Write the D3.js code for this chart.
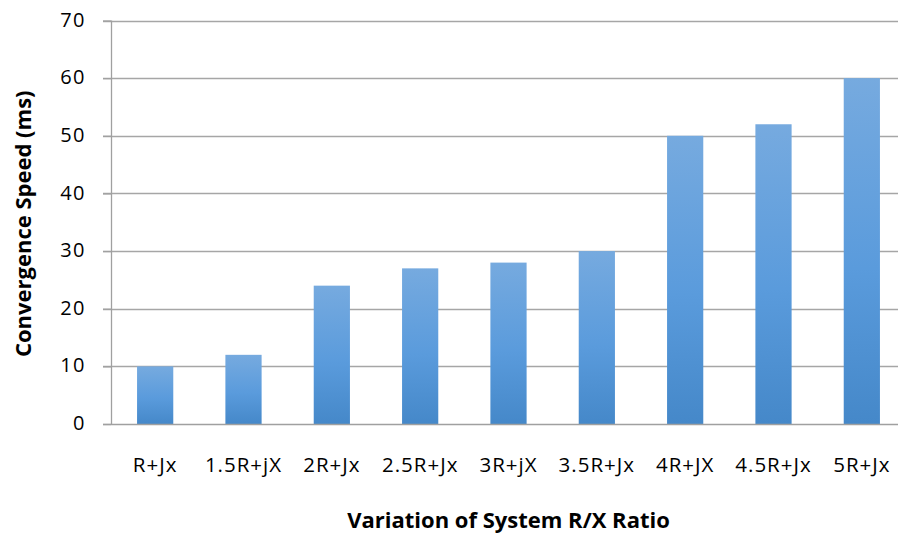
<!DOCTYPE html>
<html>
<head>
<meta charset="utf-8">
<script src="https://cdn.jsdelivr.net/npm/d3@7"></script>
<style>
  html, body { margin: 0; padding: 0; background: #fff; }
  svg { display: block; }
</style>
</head>
<body>
<script>
// Convergence speed for each system R/X ratio
const categories = ["R+Jx", "1.5R+jX", "2R+Jx", "2.5R+Jx", "3R+jX", "3.5R+Jx", "4R+JX", "4.5R+Jx", "5R+Jx"];
const speeds = [10, 12, 24, 27, 28, 30, 50, 52, 60];
const yTicks = [0, 10, 20, 30, 40, 50, 60, 70];

const width = 898, height = 533;
const plot = { left: 111, right: 906, top: 20.5, bottom: 424 };
const font = "'Open Sans', 'Liberation Sans', sans-serif";

const svg = d3.select("body").append("svg")
  .attr("width", width).attr("height", height);

const defs = svg.append("defs");
const grad = defs.append("linearGradient")
  .attr("id", "barFill").attr("x1", 0).attr("y1", 0).attr("x2", 0).attr("y2", 1);
grad.append("stop").attr("offset", "0%").attr("stop-color", "#76aadf");
grad.append("stop").attr("offset", "55%").attr("stop-color", "#5a9bdc");
grad.append("stop").attr("offset", "100%").attr("stop-color", "#4588c9");

const x = d3.scaleBand()
  .domain(categories)
  .range([plot.left, plot.right])
  .paddingInner(0.59)
  .paddingOuter(0.295);

const y = d3.scaleLinear().domain([0, 70]).range([plot.bottom, plot.top]);

// Horizontal gridlines
svg.append("g")
  .selectAll("line")
  .data(yTicks.filter(d => d > 0))
  .join("line")
  .attr("x1", plot.left - 8).attr("x2", width)
  .attr("y1", d => Math.round(y(d)) + 0.5).attr("y2", d => Math.round(y(d)) + 0.5)
  .attr("stroke", "#a6a6a6").attr("stroke-width", 1.3);

// Bars
svg.append("g")
  .selectAll("rect")
  .data(categories.map((c, i) => ({ c, v: speeds[i] })))
  .join("rect")
  .attr("x", d => x(d.c))
  .attr("width", x.bandwidth())
  .attr("y", d => y(d.v))
  .attr("height", d => y(0) - y(d.v))
  .attr("fill", "url(#barFill)");

// Y axis
const yAxis = svg.append("g")
  .attr("transform", `translate(${plot.left},0)`)
  .call(d3.axisLeft(y).tickValues(yTicks).tickSize(8).tickPadding(17));
yAxis.select(".domain").attr("stroke", "#a0a0a0").attr("stroke-width", 1.3)
  .attr("d", `M0.5,${plot.top}V${plot.bottom}`);
yAxis.selectAll(".tick line").attr("stroke", "#a0a0a0").attr("stroke-width", 1.3);
yAxis.selectAll(".tick text")
  .attr("font-family", font).attr("font-size", 20).attr("letter-spacing", 1.5)
  .attr("dy", "0.28em").attr("fill", "#000");

// X axis baseline and labels
const xAxis = svg.append("g")
  .attr("transform", `translate(0,${Math.round(plot.bottom) + 0.5})`)
  .call(d3.axisBottom(x).tickSize(0).tickPadding(33));
xAxis.select(".domain").attr("stroke", "#a0a0a0").attr("stroke-width", 1.3)
  .attr("d", `M${plot.left - 8},0H${width}`);
xAxis.selectAll(".tick text")
  .attr("font-family", font).attr("font-size", 20.5).attr("letter-spacing", 1)
  .attr("fill", "#000");

// Axis titles
svg.append("text")
  .attr("x", 508.5).attr("y", 528)
  .attr("text-anchor", "middle")
  .attr("font-family", font).attr("font-size", 22).attr("font-weight", "bold")
  .text("Variation of System R/X Ratio");

svg.append("text")
  .attr("transform", `translate(31,${(plot.top + plot.bottom) / 2 + 1.5}) rotate(-90)`)
  .attr("text-anchor", "middle")
  .attr("font-family", font).attr("font-size", 22).attr("font-weight", "bold")
  .text("Convergence Speed (ms)");
</script>
</body>
</html>
